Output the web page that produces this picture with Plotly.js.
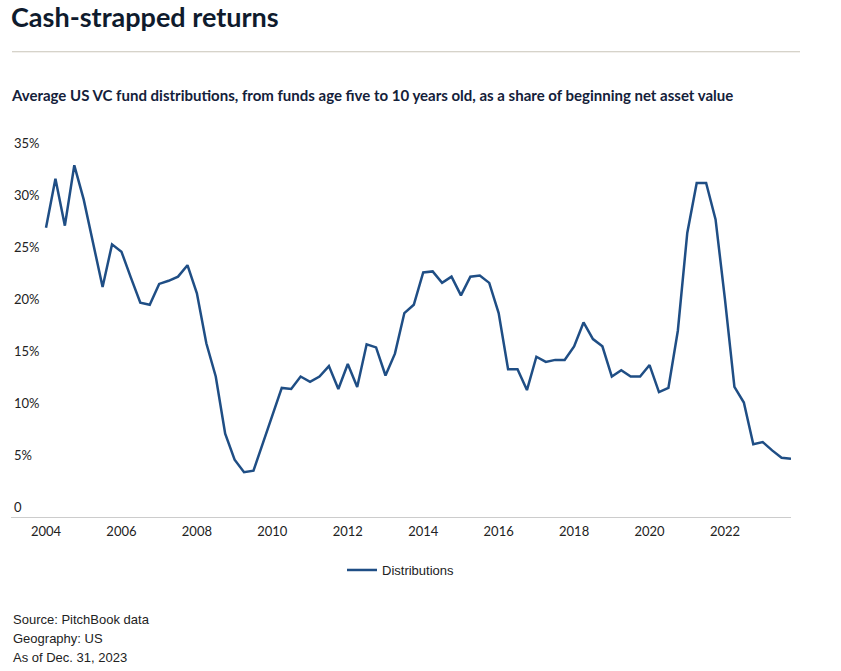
<!DOCTYPE html>
<html>
<head>
<meta charset="utf-8">
<script src="https://cdn.plot.ly/plotly-3.0.1.min.js"></script>
<style>
html,body{margin:0;padding:0;background:#fff;}
#chart{width:841px;height:671px;}
</style>
</head>
<body>
<div id="chart"></div>
<script>
// Quarterly data, Q1 2004 – Q4 2023
var years = [2004,2005,2006,2007,2008,2009,2010,2011,2012,2013,2014,2015,2016,2017,2018,2019,2020,2021,2022,2023];
var quarterOffsets = [0, 0.25, 0.5, 0.75];
var distributions = [
  27.8, 32.5, 28.0, 33.8,
  30.5, 26.3, 22.1, 26.2,
  25.5, 23.0, 20.6, 20.4,
  22.4, 22.7, 23.1, 24.2,
  21.5, 16.7, 13.5, 8.0,
  5.5, 4.3, 4.45, 7.1,
  9.8, 12.4, 12.3, 13.5,
  13.0, 13.5, 14.5, 12.3,
  14.7, 12.5, 16.6, 16.3,
  13.6, 15.7, 19.6, 20.4,
  23.5, 23.6, 22.5, 23.1,
  21.3, 23.1, 23.2, 22.5,
  19.6, 14.2, 14.2, 12.2,
  15.4, 14.9, 15.1, 15.1,
  16.4, 18.7, 17.1, 16.4,
  13.5, 14.1, 13.5, 13.5,
  14.6, 12.0, 12.4, 17.9,
  27.3, 32.1, 32.1, 28.6,
  20.9, 12.5, 11.0, 7.0,
  7.2, 6.4, 5.7, 5.6
];
var xTickVals = [2004,2006,2008,2010,2012,2014,2016,2018,2020,2022];
var xTickText = ['2004','2006','2008','2010','2012','2014','2016','2018','2020','2022'];
var yTickVals = [0,5,10,15,20,25,30,35];
var yTickText = ['0','5%','10%','15%','20%','25%','30%','35%'];

var quarters = [];
years.forEach(function(y){ quarterOffsets.forEach(function(q){ quarters.push(y + q); }); });

// layout geometry (pixels)
var W = 841, H = 671;
var plotLeft = 11, plotRight = 791, plotBottom = 517;
var yMax = 37, pxPerUnit = 10.4;
var plotTop = plotBottom - yMax * pxPerUnit;
var plotH = plotBottom - plotTop, plotW = plotRight - plotLeft;
function py(pixY){ return (plotBottom - pixY) / plotH; }
function px(pixX){ return (pixX - plotLeft) / plotW; }

var trace = {
  x: quarters,
  y: distributions,
  type: 'scatter',
  mode: 'lines',
  name: 'Distributions',
  line: {color: '#1f4e85', width: 2.5},
  hoverinfo: 'x+y'
};

var tickFont = {family: 'Lato, "Noto Sans", sans-serif', size: 13, color: '#222'};
var footFont = {family: '"Liberation Sans", Arial, sans-serif', size: 13, color: '#222'};

var layout = {
  width: W, height: H,
  margin: {l: plotLeft, r: W - plotRight, t: plotTop, b: H - plotBottom, pad: 0},
  paper_bgcolor: '#fff', plot_bgcolor: '#fff',
  title: {
    text: '<b>Cash-strapped returns</b>',
    font: {family: 'Lato, "Noto Sans", sans-serif', size: 27, color: '#0f1b2d'},
    xref: 'container', yref: 'container',
    x: 11/W, xanchor: 'left',
    y: 1 - 18/H, yanchor: 'middle'
  },
  xaxis: {
    range: [2003.072, 2023.75],
    tickvals: xTickVals, ticktext: xTickText,
    showgrid: false, zeroline: false,
    showline: true, linecolor: '#cccccc', linewidth: 1,
    ticks: '', tickfont: tickFont, ticklabelstandoff: 2,
    fixedrange: true
  },
  yaxis: {
    range: [0, yMax],
    tickvals: yTickVals, ticktext: yTickText,
    showgrid: false, zeroline: false, showline: false,
    ticks: '', tickfont: tickFont,
    ticklabelposition: 'inside top',
    fixedrange: true
  },
  showlegend: true,
  legend: {
    orientation: 'h',
    x: 0.5, xanchor: 'center',
    y: py(570), yanchor: 'middle',
    font: footFont
  },
  shapes: [{
    type: 'line', xref: 'paper', yref: 'paper',
    x0: px(12), x1: px(800),
    y0: py(52), y1: py(52),
    line: {color: '#c9c4b8', width: 1}
  }],
  annotations: [
    {
      text: '<b>Average US VC fund distributions, from funds age five to 10 years old, as a share of beginning net asset value</b>',
      xref: 'paper', yref: 'paper', x: px(12), y: py(95), xshift: -3,
      xanchor: 'left', yanchor: 'middle', showarrow: false,
      font: {family: 'Lato, "Noto Sans", sans-serif', size: 15, color: '#14213a'}
    },
    {
      text: 'Source: PitchBook data',
      xref: 'paper', yref: 'paper', x: 0, y: py(619),
      xanchor: 'left', yanchor: 'middle', showarrow: false, font: footFont
    },
    {
      text: 'Geography: US',
      xref: 'paper', yref: 'paper', x: 0, y: py(638),
      xanchor: 'left', yanchor: 'middle', showarrow: false, font: footFont
    },
    {
      text: 'As of Dec. 31, 2023',
      xref: 'paper', yref: 'paper', x: 0, y: py(657),
      xanchor: 'left', yanchor: 'middle', showarrow: false, font: footFont
    }
  ]
};

Plotly.newPlot('chart', [trace], layout, {displayModeBar: false, responsive: false});
</script>
</body>
</html>
